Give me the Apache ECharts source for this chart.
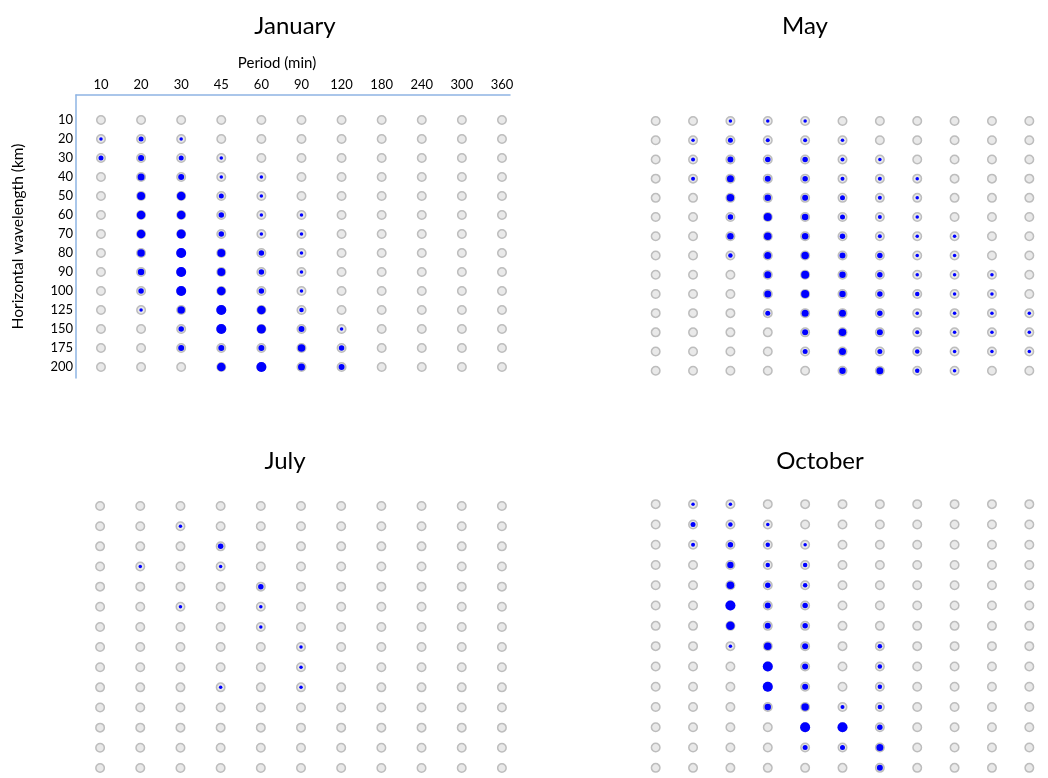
<!DOCTYPE html>
<html>
<head>
<meta charset="utf-8">
<script src="https://cdn.jsdelivr.net/npm/echarts@6/dist/echarts.min.js"></script>
<style>
  html, body { margin: 0; padding: 0; background: #fff; }
  #chart { width: 1048px; height: 778px; }
</style>
</head>
<body>
<div id="chart"></div>
<script>
// column / row categories
const periods = ['10', '20', '30', '45', '60', '90', '120', '180', '240', '300', '360']
const wavelengths = ['10', '20', '30', '40', '50', '60', '70', '80', '90', '100', '125', '150', '175', '200']
const months = ['January', 'May', 'July', 'October']

// blue fill per cell (0 = empty gray circle, 1 = fully filled), rows = wavelength, cols = period
const jan = [
  [0, 0, 0, 0, 0, 0, 0, 0, 0, 0, 0],
  [0.3, 0.5, 0.3, 0, 0, 0, 0, 0, 0, 0, 0],
  [0.5, 0.6, 0.5, 0.25, 0, 0, 0, 0, 0, 0, 0],
  [0, 0.7, 0.6, 0.3, 0.3, 0, 0, 0, 0, 0, 0],
  [0, 0.8, 0.85, 0.5, 0.25, 0, 0, 0, 0, 0, 0],
  [0, 0.85, 0.85, 0.55, 0.25, 0.25, 0, 0, 0, 0, 0],
  [0, 0.85, 0.9, 0.55, 0.25, 0.25, 0, 0, 0, 0, 0],
  [0, 0.75, 1, 0.8, 0.55, 0.25, 0, 0, 0, 0, 0],
  [0, 0.65, 1, 0.8, 0.55, 0.25, 0, 0, 0, 0, 0],
  [0, 0.55, 1, 0.85, 0.55, 0.25, 0, 0, 0, 0, 0],
  [0, 0.3, 0.75, 1, 0.85, 0.45, 0, 0, 0, 0, 0],
  [0, 0, 0.55, 1, 0.9, 0.6, 0.3, 0, 0, 0, 0],
  [0, 0, 0.6, 0.6, 0.6, 0.75, 0.55, 0, 0, 0, 0],
  [0, 0, 0, 0.85, 1, 0.7, 0.6, 0, 0, 0, 0]
]
const may = [
  [0, 0, 0.35, 0.35, 0.35, 0, 0, 0, 0, 0, 0],
  [0, 0.35, 0.5, 0.4, 0.4, 0.3, 0, 0, 0, 0, 0],
  [0, 0.4, 0.6, 0.55, 0.55, 0.4, 0.3, 0, 0, 0, 0],
  [0, 0.4, 0.7, 0.6, 0.55, 0.4, 0.4, 0.3, 0, 0, 0],
  [0, 0, 0.75, 0.65, 0.6, 0.5, 0.4, 0.3, 0, 0, 0],
  [0, 0, 0.55, 0.8, 0.65, 0.5, 0.4, 0.3, 0, 0, 0],
  [0, 0, 0.65, 0.75, 0.65, 0.55, 0.4, 0.3, 0.3, 0, 0],
  [0, 0, 0.45, 0.7, 0.75, 0.6, 0.55, 0.35, 0.3, 0, 0],
  [0, 0, 0, 0.7, 0.8, 0.65, 0.55, 0.35, 0.3, 0.3, 0],
  [0, 0, 0, 0.7, 0.8, 0.65, 0.55, 0.45, 0.3, 0.3, 0],
  [0, 0, 0, 0.5, 0.7, 0.7, 0.55, 0.35, 0.3, 0.3, 0.3],
  [0, 0, 0, 0, 0.6, 0.75, 0.6, 0.4, 0.3, 0.3, 0.3],
  [0, 0, 0, 0, 0.5, 0.7, 0.5, 0.45, 0.35, 0.3, 0.3],
  [0, 0, 0, 0, 0, 0.65, 0.7, 0.45, 0.35, 0, 0]
]
const jul = [
  [0, 0, 0, 0, 0, 0, 0, 0, 0, 0, 0],
  [0, 0, 0.3, 0, 0, 0, 0, 0, 0, 0, 0],
  [0, 0, 0, 0.55, 0, 0, 0, 0, 0, 0, 0],
  [0, 0.3, 0, 0.3, 0, 0, 0, 0, 0, 0, 0],
  [0, 0, 0, 0, 0.55, 0, 0, 0, 0, 0, 0],
  [0, 0, 0.3, 0, 0.3, 0, 0, 0, 0, 0, 0],
  [0, 0, 0, 0, 0.3, 0, 0, 0, 0, 0, 0],
  [0, 0, 0, 0, 0, 0.3, 0, 0, 0, 0, 0],
  [0, 0, 0, 0, 0, 0.3, 0, 0, 0, 0, 0],
  [0, 0, 0, 0.3, 0, 0.3, 0, 0, 0, 0, 0],
  [0, 0, 0, 0, 0, 0, 0, 0, 0, 0, 0],
  [0, 0, 0, 0, 0, 0, 0, 0, 0, 0, 0],
  [0, 0, 0, 0, 0, 0, 0, 0, 0, 0, 0],
  [0, 0, 0, 0, 0, 0, 0, 0, 0, 0, 0]
]
const oct = [
  [0, 0.35, 0.35, 0, 0, 0, 0, 0, 0, 0, 0],
  [0, 0.5, 0.45, 0.35, 0, 0, 0, 0, 0, 0, 0],
  [0, 0.4, 0.55, 0.45, 0.35, 0, 0, 0, 0, 0, 0],
  [0, 0, 0.65, 0.45, 0.45, 0, 0, 0, 0, 0, 0],
  [0, 0, 0.75, 0.55, 0.45, 0, 0, 0, 0, 0, 0],
  [0, 0, 1, 0.6, 0.55, 0, 0, 0, 0, 0, 0],
  [0, 0, 0.85, 0.6, 0.55, 0, 0, 0, 0, 0, 0],
  [0, 0, 0.35, 0.75, 0.6, 0, 0.45, 0, 0, 0, 0],
  [0, 0, 0, 1, 0.6, 0, 0.45, 0, 0, 0, 0],
  [0, 0, 0, 1, 0.6, 0, 0.45, 0, 0, 0, 0],
  [0, 0, 0, 0.65, 0.75, 0.4, 0.45, 0, 0, 0, 0],
  [0, 0, 0, 0, 1, 1, 0.55, 0, 0, 0, 0],
  [0, 0, 0, 0, 0.5, 0.5, 0.7, 0, 0, 0, 0],
  [0, 0, 0, 0, 0, 0, 0.6, 0, 0, 0, 0]
]
const panels = [jan, may, jul, oct]

const FONT = 'Lato, "Open Sans", sans-serif'
const idx = (n) => Array.from({ length: n }, (_, i) => i)

// grid boxes (pixels)
const grids = [
  { left: 76, top: 95, width: 434, height: 283 },
  { left: 637, top: 111.4, width: 428, height: 269 },
  { left: 80, top: 496, width: 442, height: 285 },
  { left: 637, top: 494, width: 425, height: 284 }
]

const chart = echarts.init(document.getElementById('chart'))

const xAxis = []
const yAxis = []
const series = []

panels.forEach((grid, g) => {
  if (g === 0) {
    xAxis.push({
      gridIndex: 0, type: 'value', position: 'top',
      min: -0.623, max: 10.2,
      axisLine: { show: true, onZero: false, lineStyle: { color: '#8eb4e3', width: 1.5 } },
      axisTick: { show: false },
      splitLine: { show: false },
      axisLabel: {
        customValues: idx(periods.length),
        formatter: (v) => periods[v],
        color: '#000', fontSize: 13, fontFamily: FONT, margin: 4
      }
    })
    yAxis.push({
      gridIndex: 0, type: 'value', inverse: true,
      min: -1.316, max: 13.58,
      name: 'Horizontal wavelength (km)',
      nameLocation: 'middle', nameGap: 50,
      nameTextStyle: { color: '#000', fontSize: 15.5, fontFamily: FONT },
      axisLine: { show: true, onZero: false, lineStyle: { color: '#8eb4e3', width: 1.5 } },
      axisTick: { show: false },
      splitLine: { show: false },
      axisLabel: {
        customValues: idx(wavelengths.length),
        formatter: (v) => wavelengths[v],
        color: '#000', fontSize: 13, fontFamily: FONT, margin: 3
      }
    })
  } else {
    xAxis.push({ gridIndex: g, type: 'value', min: -0.5, max: 10.5, show: false })
    yAxis.push({ gridIndex: g, type: 'value', min: -0.5, max: 13.5, inverse: true, show: false })
  }

  const all = []
  const filled = []
  grid.forEach((row, r) => {
    row.forEach((v, c) => {
      all.push([c, r])
      if (v > 0) filled.push([c, r, v])
    })
  })

  series.push({
    type: 'scatter', xAxisIndex: g, yAxisIndex: g,
    data: all, symbolSize: 8.5, silent: true,
    itemStyle: { color: '#e9e9e9', borderColor: '#bdbdbd', borderWidth: 1.5, opacity: 1 },
    z: 2
  })
  series.push({
    type: 'scatter', xAxisIndex: g, yAxisIndex: g,
    data: filled, silent: true,
    symbolSize: (d) => Math.max(3.5, d[2] * 10),
    itemStyle: { color: '#0000ff', opacity: 1 },
    z: 3
  })
})

chart.setOption({
  animation: false,
  backgroundColor: '#fff',
  title: [
    { text: months[0], left: 290, top: 9, textAlign: 'center' },
    { text: months[1], left: 800, top: 9, textAlign: 'center' },
    { text: months[2], left: 280, top: 444, textAlign: 'center' },
    { text: months[3], left: 815, top: 444, textAlign: 'center' },
    { text: 'Period (min)', left: 272, top: 51, textAlign: 'center' }
  ].map((t, i) => Object.assign(t, {
    textStyle: { fontSize: i < 4 ? 24 : 15, fontWeight: 'normal', color: '#000', fontFamily: FONT }
  })),
  grid: grids,
  xAxis: xAxis,
  yAxis: yAxis,
  series: series
})
</script>
</body>
</html>
